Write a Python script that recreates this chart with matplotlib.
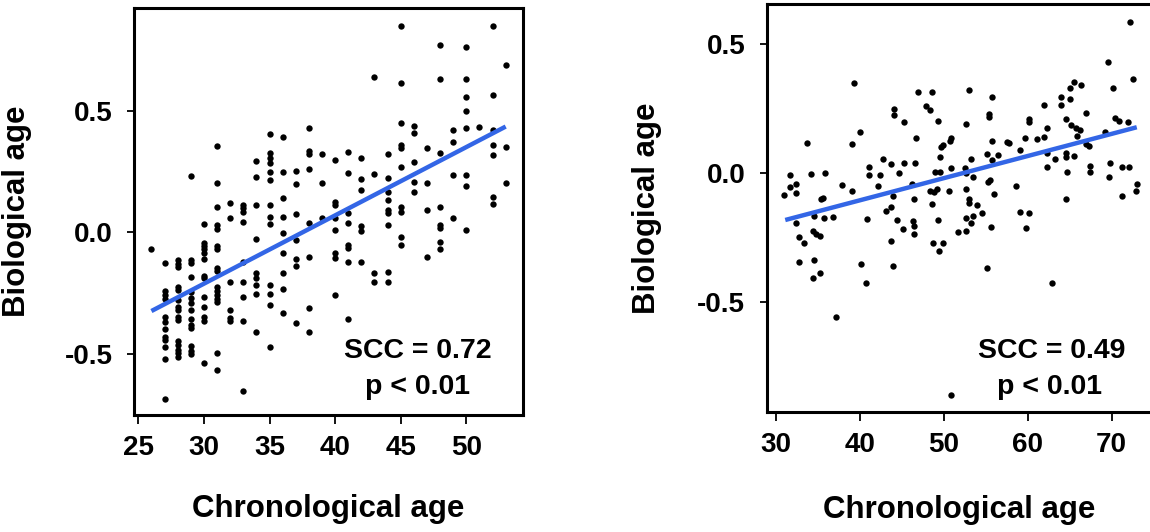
import matplotlib
matplotlib.use('Agg')
import matplotlib.pyplot as plt

plt.rcParams['font.family'] = ['Liberation Sans', 'DejaVu Sans']
plt.rcParams['font.weight'] = 'bold'

# 왼쪽 패널: 나이(정수) / biological age
left_age = ([26] + [27] * 12 + [28] * 15 + [29] * 14 + [30] * 13 + [31] * 16
            + [32] * 6 + [33] * 9 + [34] * 9 + [35] * 13 + [36] * 9 + [37] * 7
            + [38] * 8 + [39] * 3 + [40] * 8 + [41] * 8 + [42] * 6 + [43] * 4
            + [44] * 9 + [45] * 10 + [46] * 5 + [47] * 4 + [48] * 8 + [49] * 4
            + [50] * 8 + [51] * 1 + [52] * 7 + [53] * 3)
left_bio = [
    -0.069,
    -0.124, -0.240, -0.258, -0.276, -0.347, -0.368, -0.399, -0.430, -0.443, -0.474, -0.523, -0.688,
    -0.113, -0.130, -0.144, -0.224, -0.237, -0.278, -0.306, -0.320, -0.347, -0.361, -0.448, -0.464,
    -0.485, -0.498, -0.512,
    0.234, -0.113, -0.124, -0.182, -0.244, -0.272, -0.292, -0.320, -0.358, -0.382, -0.395, -0.468,
    -0.488, -0.501,
    0.035, -0.042, -0.056, -0.069, -0.086, -0.111, -0.179, -0.189, -0.268, -0.309, -0.347, -0.364, -0.540,
    0.358, 0.205, 0.106, 0.031, 0.013, -0.056, -0.069, -0.148, -0.158, -0.224, -0.240, -0.258, -0.276,
    -0.286, -0.498, -0.567,
    0.120, 0.059, -0.203, -0.320, -0.354, -0.364,
    0.113, 0.100, 0.086, 0.045, -0.120, -0.203, -0.268, -0.364, -0.653,
    0.294, 0.230, 0.113, -0.028, -0.168, -0.189, -0.217, -0.255, -0.409,
    0.405, 0.326, 0.306, 0.285, 0.251, 0.217, 0.115, 0.065, 0.035, -0.217, -0.255, -0.301, -0.471,
    0.395, 0.251, 0.144, 0.064, -0.003, -0.086, -0.166, -0.233, -0.333,
    0.252, 0.199, 0.075, -0.031, -0.110, -0.138, -0.375,
    0.430, 0.335, 0.325, 0.262, 0.040, -0.103, -0.313, -0.409,
    0.324, 0.203, 0.058,
    0.297, 0.127, 0.113, 0.058, 0.010, -0.086, -0.107, -0.258,
    0.333, 0.244, 0.079, 0.038, -0.052, -0.065, -0.123, -0.358,
    0.306, 0.221, 0.174, 0.028, 0.006, -0.123,
    0.640, 0.241, -0.168, -0.203,
    0.324, 0.224, 0.168, 0.134, 0.093, 0.079, 0.031, -0.162, -0.203,
    0.852, 0.616, 0.450, 0.361, 0.347, 0.271, 0.106, 0.086, -0.017, -0.052,
    0.439, 0.412, 0.292, 0.207, 0.166,
    0.350, 0.203, 0.093, -0.102,
    0.774, 0.633, 0.327, 0.106, 0.031, 0.017, -0.038, -0.069,
    0.423, 0.375, 0.237, 0.059,
    0.767, 0.633, 0.558, 0.502, 0.432, 0.237, 0.193, 0.010,
    0.436,
    0.852, 0.567, 0.423, 0.361, 0.320, 0.148, 0.116,
    0.691, 0.354, 0.203,
]
left_fit_x = [26, 53]
left_fit_y = [-0.324, 0.437]
left_text = ['SCC = 0.72', 'p < 0.01']
left_xticks = [25, 30, 35, 40, 45, 50]

# 오른쪽 패널
right_age = [
    72.2, 69.6, 72.6, 70.2, 65.5, 66.4, 65.0, 64.0, 65.0, 64.0, 61.9, 66.9, 64.6, 70.4, 70.9, 72.0,
    65.2, 65.8, 66.2, 69.2, 62.3, 62.0, 65.9, 60.1, 60.1, 59.7, 61.1, 59.1, 57.5, 57.8, 55.7, 55.4,
    55.4, 55.7, 55.2, 56.5, 55.8, 53.0, 52.6, 53.2, 52.5, 52.7, 53.5, 55.5, 55.3, 56.0, 52.6, 53.0,
    53.0, 54.0, 53.5, 54.6, 50.9, 50.7, 49.9, 49.7, 49.3, 49.5, 50.9, 49.0, 49.5, 49.2, 48.8, 48.4,
    50.6, 48.6, 46.9, 48.6, 47.9, 48.4, 45.2, 44.1, 44.1, 46.7, 45.2, 46.6, 43.7, 44.6, 42.7, 41.1,
    41.1, 42.4, 46.2, 46.5, 44.0, 42.1, 43.1, 43.7, 40.0, 39.3, 39.1, 39.0, 37.9, 33.7, 34.2, 35.8,
    31.7, 31.7, 32.4, 32.4, 31.0, 35.4, 35.6, 34.5, 35.7, 36.8, 40.8, 44.4, 49.3, 52.6, 59.1, 60.1,
    64.6, 64.6, 64.6, 65.5, 63.3, 62.3, 62.3, 64.7, 67.4, 67.4, 67.0, 67.3, 69.8, 69.7, 71.2, 72.1,
    73.0, 72.9, 71.2, 58.6,
    32.4, 32.7, 33.3, 34.4, 34.8, 35.2, 32.7, 34.5, 34.4, 35.3, 37.2, 40.1, 40.7, 45.1, 43.7, 43.9,
    46.3, 46.4, 46.4, 48.7, 49.9, 49.4, 51.7, 52.6, 53.3, 55.6, 55.2, 50.9, 59.8, 62.9,
]
right_bio = [
    0.582, 0.427, 0.364, 0.328, 0.353, 0.341, 0.326, 0.294, 0.286, 0.262, 0.262, 0.230, 0.208, 0.210,
    0.201, 0.195, 0.184, 0.172, 0.165, 0.159, 0.172, 0.139, 0.142, 0.209, 0.196, 0.133, 0.130, 0.088,
    0.117, 0.116, 0.294, 0.227, 0.214, 0.123, 0.072, 0.068, 0.049, 0.320, 0.188, 0.055, 0.017, -0.003,
    -0.015, -0.028, -0.035, -0.084, -0.063, -0.102, -0.119, -0.125, -0.168, -0.157, 0.133, 0.124,
    0.107, 0.101, 0.201, 0.062, 0.019, 0.004, 0.001, -0.063, -0.074, -0.070, -0.072, -0.120, 0.313,
    0.313, 0.258, 0.243, 0.196, 0.245, 0.223, 0.135, 0.039, 0.036, 0.032, -0.003, 0.053, 0.023,
    -0.009, -0.009, -0.045, -0.102, -0.089, -0.050, -0.147, -0.132, 0.156, 0.348, 0.111, -0.071,
    -0.049, 0.116, -0.005, -0.003, -0.009, -0.054, -0.045, -0.080, -0.086, -0.103, -0.099, -0.168,
    -0.177, -0.170, -0.181, -0.183, -0.183, -0.177, -0.151, -0.154, -0.103, 0.062, 0.075, 0.064,
    0.053, 0.075, 0.023, 0.004, 0.027, 0.004, 0.111, 0.104, 0.036, -0.018, 0.023, 0.021, -0.045,
    -0.070, -0.089, -0.050,
    -0.193, -0.248, -0.271, -0.224, -0.237, -0.245, -0.347, -0.338, -0.406, -0.387, -0.557, -0.353,
    -0.426, -0.219, -0.264, -0.360, -0.186, -0.206, -0.238, -0.273, -0.273, -0.303, -0.231, -0.226,
    -0.193, -0.209, -0.370, -0.860, -0.215, -0.428,
]
right_fit_x = [31.1, 73.0]
right_fit_y = [-0.183, 0.176]
right_text = ['SCC = 0.49', 'p < 0.01']
right_xticks = [30, 40, 50, 60, 70]

yticks = [-0.5, 0.0, 0.5]
line_color = '#3366e6'

fig = plt.figure(figsize=(11.5, 5.32), dpi=100)
ax1 = fig.add_axes([0.1165, 0.2199, 0.3383, 0.765])
ax2 = fig.add_axes([0.6667, 0.2261, 0.3350, 0.7664])

panels = [
    (ax1, left_age, left_bio, left_fit_x, left_fit_y, left_text, left_xticks,
     (24.67, 54.32), (-0.753, 0.926), [(0.729, 0.140), (0.729, 0.051)], (-0.262, -0.195)),
    (ax2, right_age, right_bio, right_fit_x, right_fit_y, right_text, right_xticks,
     (28.89, 74.81), (-0.925, 0.653), [(0.740, 0.131), (0.733, 0.043)], (-0.273, -0.204)),
]

for ax, xs, ys, fx, fy, txt, xt, xl, yl, tpos, lab in panels:
    ax.scatter(xs, ys, s=21, c='black', linewidths=0, zorder=2)
    ax.plot(fx, fy, color=line_color, lw=3.2, solid_capstyle='butt', zorder=3)
    ax.set_xlim(*xl)
    ax.set_ylim(*yl)
    ax.set_xticks(xt)
    ax.set_yticks(yticks)
    ax.set_yticklabels(['%.1f' % v for v in yticks])
    ax.tick_params(axis='x', length=6.5, width=1.3, pad=8, labelsize=20)
    ax.tick_params(axis='y', length=5, width=1.3, pad=10.5, labelsize=20)
    for sp in ax.spines.values():
        sp.set_linewidth(2.2)
    ax.set_xlabel('Chronological age', fontsize=22.5, fontweight='bold')
    ax.set_ylabel('Biological age', fontsize=22.5, fontweight='bold')
    ax.yaxis.set_label_coords(lab[0], 0.5)
    ax.xaxis.set_label_coords(0.5, lab[1])
    for (tx, ty), s in zip(tpos, txt):
        ax.text(tx, ty, s, transform=ax.transAxes, ha='center', va='baseline',
                fontsize=20.5, fontweight='bold')

fig.savefig('out.png', dpi=100)
